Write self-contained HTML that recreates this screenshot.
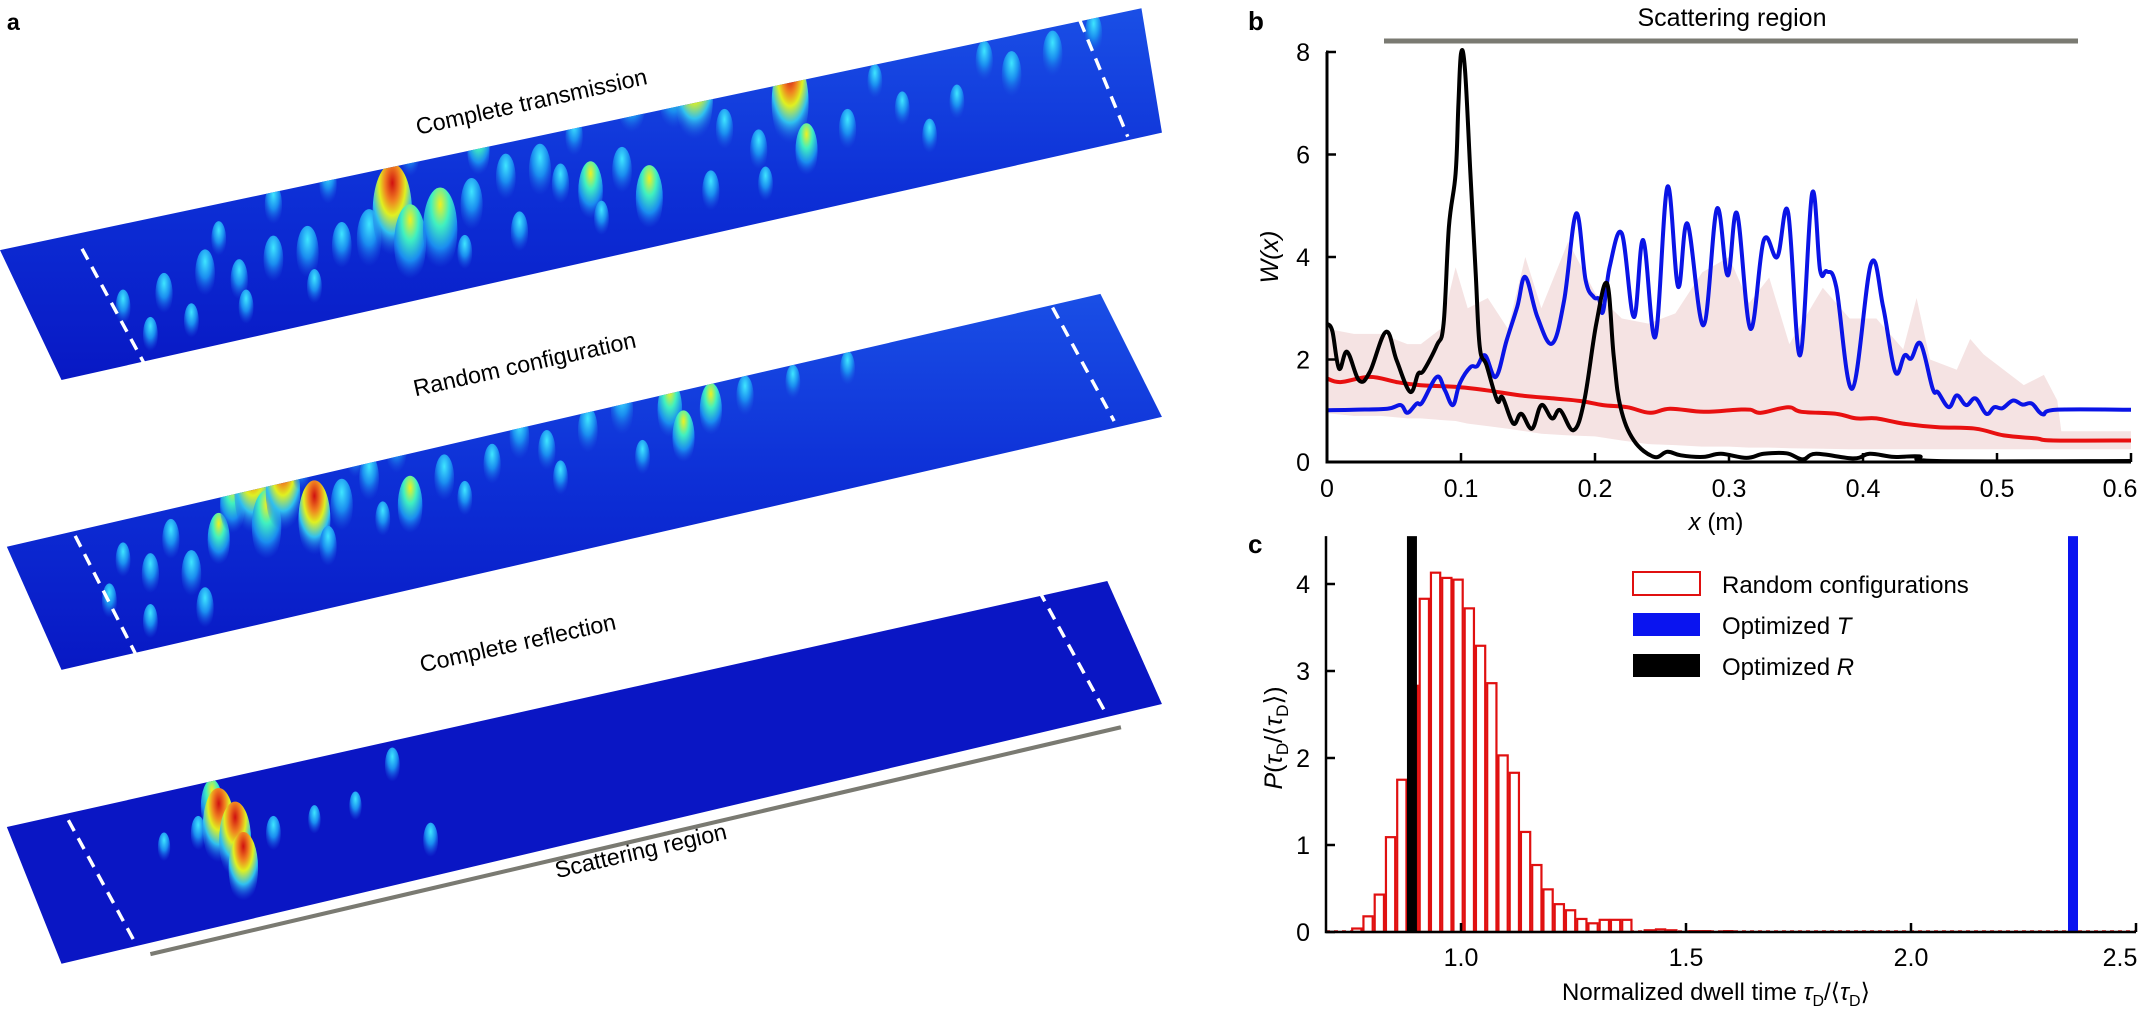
<!DOCTYPE html>
<html><head><meta charset="utf-8"><style>
html,body{margin:0;padding:0;background:#fff;}
svg{display:block;}
text{font-family:"Liberation Sans",sans-serif;}
</style></head><body>
<svg id="fig" xmlns="http://www.w3.org/2000/svg" width="2143" height="1013" viewBox="0 0 2143 1013">
<defs>
<linearGradient id="slabG" x1="0" y1="0" x2="0" y2="1">
<stop offset="0" stop-color="#1a4fe6"/><stop offset="0.5" stop-color="#0d2fd6"/><stop offset="1" stop-color="#0818c4"/></linearGradient>
<radialGradient id="pkC" cx="0.5" cy="0.25" r="0.7"><stop offset="0" stop-color="#3fe6ff"/><stop offset="0.5" stop-color="#1a8cf0"/><stop offset="1" stop-color="#1a50e0" stop-opacity="0"/></radialGradient>
<radialGradient id="pkY" cx="0.5" cy="0.2" r="0.75"><stop offset="0" stop-color="#f0f020"/><stop offset="0.35" stop-color="#40f0c0"/><stop offset="0.7" stop-color="#1a8cf0"/><stop offset="1" stop-color="#1a50e0" stop-opacity="0"/></radialGradient>
<radialGradient id="pkR" cx="0.5" cy="0.2" r="0.75"><stop offset="0" stop-color="#d01010"/><stop offset="0.25" stop-color="#f08020"/><stop offset="0.45" stop-color="#e0f020"/><stop offset="0.7" stop-color="#30c0f0"/><stop offset="1" stop-color="#1a50e0" stop-opacity="0"/></radialGradient>
<clipPath id="clip1"><polygon points="0,183 835,6 850,97 45,278"/></clipPath>
<clipPath id="clip2"><polygon points="5,400 805,215 850,305 45,490"/></clipPath>
<clipPath id="clip3"><polygon points="5,605 810,425 850,515 45,705"/></clipPath>
</defs>

<g id="panelA" transform="scale(1.367)">
<text x="5" y="22" font-size="17" font-weight="bold">a</text>
<g>
<polygon points="0,183 835,6 850,97 45,278" fill="url(#slabG)"/>
<g id="pk1" clip-path="url(#clip1)"></g>
<line x1="60" y1="182" x2="105" y2="265" stroke="#fff" stroke-width="2.5" stroke-dasharray="9,6"/>
<line x1="790" y1="15" x2="825" y2="100" stroke="#fff" stroke-width="2.5" stroke-dasharray="9,6"/>
</g>
<text x="390" y="80" font-size="17" text-anchor="middle" transform="rotate(-12.5 390 80)">Complete transmission</text>

<g>
<polygon points="5,400 805,215 850,305 45,490" fill="url(#slabG)"/>
<g id="pk2" clip-path="url(#clip2)"></g>
<line x1="55" y1="392" x2="100" y2="480" stroke="#fff" stroke-width="2.5" stroke-dasharray="9,6"/>
<line x1="770" y1="225" x2="815" y2="308" stroke="#fff" stroke-width="2.5" stroke-dasharray="9,6"/>
</g>
<text x="385" y="272" font-size="17" text-anchor="middle" transform="rotate(-12.5 385 272)">Random configuration</text>

<g>
<polygon points="5,605 810,425 850,515 45,705" fill="#0a16c4"/>
<g id="pk3" clip-path="url(#clip3)"></g>
<line x1="50" y1="600" x2="98" y2="688" stroke="#fff" stroke-width="2.5" stroke-dasharray="9,6"/>
<line x1="760" y1="432" x2="808" y2="520" stroke="#fff" stroke-width="2.5" stroke-dasharray="9,6"/>
</g>
<text x="380" y="476" font-size="17" text-anchor="middle" transform="rotate(-12.5 380 476)">Complete reflection</text>
<line x1="110" y1="698" x2="820" y2="532" stroke="#7a7a72" stroke-width="3"/>
<text x="470" y="628" font-size="17" text-anchor="middle" transform="rotate(-13 470 628)">Scattering region</text>
</g>

<g id="panelB">
<text x="1248" y="30" font-size="26" font-weight="bold">b</text>
<text x="1732" y="26" font-size="25" text-anchor="middle">Scattering region</text>
<line x1="1384" y1="41" x2="2078" y2="41" stroke="#7a7a72" stroke-width="5"/>
<g id="bPlot"></g>
<text transform="translate(1278 257) rotate(-90)" font-size="25" text-anchor="middle" font-style="italic">W(x)</text>
<text x="1716" y="530" font-size="24" text-anchor="middle"><tspan font-style="italic">x</tspan> (m)</text>
</g>

<g id="panelC">
<text x="1248" y="553" font-size="26" font-weight="bold">c</text>
<g id="cPlot"></g>
<text transform="translate(1282 738) rotate(-90)" font-size="25" text-anchor="middle"><tspan font-style="italic">P</tspan>(<tspan font-style="italic">τ</tspan><tspan font-size="17" dy="6">D</tspan><tspan dy="-6">/⟨</tspan><tspan font-style="italic">τ</tspan><tspan font-size="17" dy="6">D</tspan><tspan dy="-6">⟩)</tspan></text>
<text x="1716" y="1000" font-size="24" text-anchor="middle">Normalized dwell time <tspan font-style="italic">τ</tspan><tspan font-size="16" dy="6">D</tspan><tspan dy="-6">/⟨</tspan><tspan font-style="italic">τ</tspan><tspan font-size="16" dy="6">D</tspan><tspan dy="-6">⟩</tspan></text>
<g>
<rect x="1633" y="572" width="67" height="23" fill="#fff" stroke="#e01010" stroke-width="2"/>
<text x="1722" y="593" font-size="24">Random configurations</text>
<rect x="1633" y="613" width="67" height="23" fill="#0a14f0"/>
<text x="1722" y="634" font-size="24">Optimized <tspan font-style="italic">T</tspan></text>
<rect x="1633" y="654" width="67" height="23" fill="#000"/>
<text x="1722" y="675" font-size="24">Optimized <tspan font-style="italic">R</tspan></text>
</g>
</g>
</svg>
<script>
const blackX = [0,0.004,0.009,0.015,0.024,0.032,0.044,0.052,0.062,0.068,0.072,0.082,0.087,0.091,0.096,0.098,0.1,0.103,0.107,0.111,0.114,0.119,0.127,0.131,0.139,0.145,0.153,0.16,0.168,0.174,0.184,0.192,0.201,0.209,0.214,0.219,0.229,0.244,0.254,0.264,0.281,0.294,0.313,0.326,0.343,0.355,0.365,0.393,0.405,0.423,0.442,0.455,0.6];
const blackY = [2.7,2.55,1.82,2.15,1.59,1.76,2.54,1.98,1.37,1.72,1.78,2.28,2.7,4.59,5.63,6.93,7.97,7.65,5.63,3.68,2.24,1.89,1.2,1.26,0.75,0.94,0.65,1.11,0.85,1.01,0.62,1.2,2.7,3.48,2.05,1.07,0.42,0.1,0.2,0.13,0.1,0.16,0.08,0.16,0.17,0.05,0.16,0.07,0.16,0.1,0.11,0.02,0.02];
const blueX = [0,0.02,0.045,0.055,0.06,0.067,0.071,0.082,0.088,0.094,0.099,0.107,0.112,0.118,0.126,0.134,0.142,0.148,0.157,0.168,0.177,0.186,0.193,0.199,0.203,0.206,0.211,0.22,0.229,0.236,0.245,0.254,0.262,0.269,0.281,0.291,0.299,0.306,0.316,0.326,0.336,0.344,0.353,0.362,0.368,0.373,0.38,0.392,0.406,0.415,0.424,0.431,0.436,0.443,0.452,0.456,0.464,0.47,0.477,0.484,0.492,0.498,0.504,0.512,0.519,0.526,0.534,0.544,0.6];
const blueY = [1.01,1.02,1.04,1.11,0.96,1.14,1.16,1.66,1.4,1.11,1.53,1.85,1.87,2.08,1.66,2.37,3.03,3.61,2.83,2.31,3.16,4.85,3.55,3.22,3.18,2.93,3.81,4.46,2.83,4.33,2.44,5.37,3.42,4.65,2.67,4.94,3.64,4.85,2.6,4.33,4.0,4.88,2.08,5.24,3.74,3.72,3.42,1.43,3.87,3.03,1.76,2.08,2.02,2.31,1.43,1.36,1.07,1.3,1.11,1.24,0.94,1.07,1.05,1.2,1.12,1.14,0.93,1.02,1.02];
const redX = [0,0.01,0.032,0.052,0.069,0.099,0.119,0.144,0.169,0.189,0.206,0.224,0.241,0.256,0.281,0.306,0.316,0.324,0.344,0.354,0.38,0.395,0.41,0.43,0.455,0.484,0.505,0.529,0.542,0.6];
const redY = [1.63,1.56,1.66,1.56,1.5,1.46,1.4,1.3,1.24,1.19,1.11,1.07,0.96,1.04,0.98,1.02,1.02,0.96,1.07,0.98,0.94,0.85,0.85,0.75,0.68,0.65,0.52,0.46,0.42,0.42];
const bandX = [0,0.02,0.04,0.06,0.07,0.085,0.096,0.105,0.12,0.135,0.148,0.16,0.18,0.2,0.22,0.24,0.26,0.28,0.3,0.315,0.33,0.345,0.37,0.39,0.41,0.43,0.44,0.45,0.47,0.48,0.49,0.51,0.52,0.535,0.545,0.548,0.6];
const bandHi = [2.6,2.5,2.5,2.3,2.3,2.6,3.8,3.0,3.2,2.6,4.0,3.0,4.3,3.3,2.8,2.7,2.9,3.7,4.0,3.1,3.6,2.3,3.4,2.8,2.8,2.2,3.2,2.0,1.8,2.4,2.1,1.7,1.5,1.7,1.2,0.6,0.6];
const bandLo = [0.95,0.9,0.9,0.85,0.85,0.82,0.8,0.75,0.7,0.65,0.6,0.55,0.52,0.5,0.42,0.35,0.33,0.3,0.3,0.28,0.28,0.27,0.26,0.25,0.25,0.25,0.25,0.25,0.25,0.25,0.25,0.25,0.25,0.25,0.25,0.25,0.25];
const bXTicks = [0,0.1,0.2,0.3,0.4,0.5,0.6];
const bXTickLabels = ["0","0.1","0.2","0.3","0.4","0.5","0.6"];
const bYTicks = [0,2,4,6,8];
const bYTickLabels = ["0","2","4","6","8"];

const histStart = 0.756;
const histWidth = 0.025;
const histCounts = [0.04,0.18,0.43,1.09,1.75,2.83,3.83,4.13,4.07,4.05,3.72,3.29,2.86,2.03,1.83,1.15,0.77,0.49,0.32,0.25,0.15,0.10,0.14,0.14,0.14,0,0.02,0.03,0.02,0,0.01,0.01,0,0.01];
const optR = 0.891;
const optT = 2.36;
const cXTicks = [1.0,1.5,2.0,2.5];
const cXTickLabels = ["1.0","1.5","2.0","2.5"];
const cYTicks = [0,1,2,3,4];
const cYTickLabels = ["0","1","2","3","4"];

const NS = "http://www.w3.org/2000/svg";
function mk(tag, attrs, parent){const e=document.createElementNS(NS,tag);for(const k in attrs)e.setAttribute(k,attrs[k]);parent.appendChild(e);return e;}

const bx = v => 1327 + v*1340;
const by = v => 462 - v*51.25;
const bP = document.getElementById('bPlot');
function poly(xs,ys){return xs.map((x,i)=>(i?'L':'M')+bx(x).toFixed(1)+','+by(ys[i]).toFixed(1)).join('');}
function smooth(xs,ys){
  const P = xs.map((x,i)=>[bx(x),by(ys[i])]);
  let d='M'+P[0][0].toFixed(1)+','+P[0][1].toFixed(1);
  for(let i=0;i<P.length-1;i++){
    const p0=P[Math.max(0,i-1)],p1=P[i],p2=P[i+1],p3=P[Math.min(P.length-1,i+2)];
    const t=0.18;
    const c1=[p1[0]+(p2[0]-p0[0])*t,p1[1]+(p2[1]-p0[1])*t];
    const c2=[p2[0]-(p3[0]-p1[0])*t,p2[1]-(p3[1]-p1[1])*t];
    d+='C'+c1[0].toFixed(1)+','+c1[1].toFixed(1)+' '+c2[0].toFixed(1)+','+c2[1].toFixed(1)+' '+p2[0].toFixed(1)+','+p2[1].toFixed(1);
  }
  return d;
}
let bandD = poly(bandX,bandHi);
for(let i=bandX.length-1;i>=0;i--) bandD += 'L'+bx(bandX[i]).toFixed(1)+','+by(bandLo[i]).toFixed(1);
const band = mk('path',{d:bandD+'Z',fill:'#f5e3e3',stroke:'none'},bP);


const redL = mk('path',{d:smooth(redX,redY),fill:'none',stroke:'#e81010','stroke-width':4,'stroke-linejoin':'round'},bP);


const blueL = mk('path',{d:smooth(blueX,blueY),fill:'none',stroke:'#0a14e6','stroke-width':4,'stroke-linejoin':'round'},bP);


const blackL = mk('path',{d:smooth(blackX,blackY),fill:'none',stroke:'#000','stroke-width':4,'stroke-linejoin':'round'},bP);


const bAxes = mk('path',{d:`M${bx(0)-1},${by(8)}H${bx(0)}V${by(0)}H${bx(0.6)}`,fill:'none',stroke:'#000','stroke-width':3},bP);


bXTicks.forEach((t,i)=>{
  const tk = mk('line',{x1:bx(t),x2:bx(t),y1:by(0),y2:by(0)-9,stroke:'#000','stroke-width':2.5},bP);
  
  
  const tl = mk('text',{x:Math.min(bx(t),2120),y:497,'font-size':25,'text-anchor':'middle'},bP);
  tl.textContent = bXTickLabels[i];
  
  
});
bYTicks.forEach((t,i)=>{
  const tk = mk('line',{x1:bx(0),x2:bx(0)+9,y1:by(t),y2:by(t),stroke:'#000','stroke-width':2.5},bP);
  
  
  const tl = mk('text',{x:1310,y:by(t)+9,'font-size':25,'text-anchor':'end'},bP);
  tl.textContent = bYTickLabels[i];
  
  
});

const cx = v => 1461 + (v-1)*450;
const cy = v => 932 - v*87;
const cP = document.getElementById('cPlot');
const hb = mk('line',{x1:cx(0.70),x2:cx(2.5),y1:cy(0)-1,y2:cy(0)-1,stroke:'#e01010','stroke-width':1.5,'stroke-dasharray':'4,4'},cP);


histCounts.forEach((h,i)=>{
  if(h<=0) return;
  const x0 = cx(histStart+i*histWidth), x1 = cx(histStart+(i+1)*histWidth);
  const r = mk('rect',{x:x0+1,y:cy(h),width:x1-x0-2,height:cy(0)-cy(h),fill:'#fff',stroke:'#e01010','stroke-width':2.2},cP);
  
  
});
const rBar = mk('rect',{x:cx(optR)-5,y:cy(4.55),width:10,height:cy(0)-cy(4.55),fill:'#000'},cP);


const tBar = mk('rect',{x:cx(optT)-5,y:cy(4.55),width:10,height:cy(0)-cy(4.55),fill:'#0a14f0'},cP);


const cAxes = mk('path',{d:`M${cx(0.70)},${cy(4.55)}V${cy(0)}H${cx(2.5)}`,fill:'none',stroke:'#000','stroke-width':2.5},cP);


cXTicks.forEach((t,i)=>{
  const tk = mk('line',{x1:cx(t),x2:cx(t),y1:cy(0),y2:cy(0)-9,stroke:'#000','stroke-width':2.5},cP);
  
  
  const tl = mk('text',{x:Math.min(cx(t),2120),y:966,'font-size':25,'text-anchor':'middle'},cP);
  tl.textContent = cXTickLabels[i];
  
  
});
cYTicks.forEach((t,i)=>{
  const tk = mk('line',{x1:cx(0.70),x2:cx(0.70)+9,y1:cy(t),y2:cy(t),stroke:'#000','stroke-width':2.5},cP);
  
  
  const tl = mk('text',{x:1310,y:cy(t)+9,'font-size':25,'text-anchor':'end'},cP);
  tl.textContent = cYTickLabels[i];
  
  
});

const peaks1 = [[90,225,12,'C'],[120,215,14,'C'],[150,200,16,'C'],[175,205,14,'C'],[200,190,16,'C'],[225,185,18,'C'],[250,180,16,'C'],[270,175,20,'C'],[287,155,32,'R'],[300,178,26,'Y'],[322,168,28,'Y'],[345,150,18,'C'],[350,110,18,'Y'],[370,130,16,'C'],[395,125,18,'C'],[410,135,14,'C'],[432,140,20,'Y'],[455,125,16,'C'],[462,75,22,'Y'],[475,145,22,'Y'],[493,70,24,'Y'],[508,72,30,'R'],[530,95,14,'C'],[555,110,14,'C'],[578,75,30,'R'],[590,110,18,'Y'],[620,95,14,'C'],[660,80,12,'C'],[700,75,12,'C'],[300,115,14,'C'],[240,135,14,'C'],[200,150,14,'C'],[160,175,12,'C'],[420,100,14,'C'],[640,60,12,'C'],[740,55,16,'C'],[800,25,14,'C'],[380,170,14,'C'],[520,140,14,'C'],[110,245,12,'C'],[140,235,12,'C'],[180,225,12,'C'],[230,210,12,'C'],[340,185,12,'C'],[440,160,12,'C'],[560,135,12,'C'],[680,100,12,'C'],[720,45,14,'C'],[770,40,16,'C']];
const peaks2 = [[80,440,12,'C'],[110,420,14,'C'],[140,420,16,'C'],[160,395,18,'Y'],[170,370,20,'Y'],[185,360,30,'R'],[195,385,24,'Y'],[207,360,28,'R'],[230,380,26,'R'],[250,370,18,'C'],[270,350,16,'C'],[290,330,16,'C'],[300,370,20,'Y'],[325,350,16,'C'],[345,305,16,'Y'],[360,340,14,'C'],[380,320,16,'C'],[400,330,14,'C'],[430,315,16,'C'],[455,300,18,'C'],[490,300,20,'Y'],[500,320,18,'Y'],[520,300,18,'Y'],[545,290,14,'C'],[580,280,12,'C'],[620,270,12,'C'],[125,395,14,'C'],[220,345,14,'C'],[260,335,14,'C'],[150,445,14,'C'],[110,455,12,'C'],[90,410,12,'C'],[240,400,14,'C'],[280,380,12,'C'],[340,365,12,'C'],[410,350,12,'C'],[470,335,12,'C']];
const peaks3 = [[120,620,10,'C'],[145,610,12,'C'],[155,590,18,'Y'],[160,605,26,'R'],[172,615,26,'R'],[178,635,24,'R'],[200,610,12,'C'],[230,600,10,'C'],[260,590,10,'C'],[287,560,12,'C'],[315,615,12,'C']];
function drawPeaks(list,id){
  const g=document.getElementById(id);
  list.forEach(p=>{
    const e=mk('ellipse',{cx:p[0],cy:p[1],rx:p[2]*0.45,ry:p[2]*1.1,fill:'url(#pk'+p[3]+')'},g);
    
    
  });
}
drawPeaks(peaks1,'pk1');drawPeaks(peaks2,'pk2');drawPeaks(peaks3,'pk3');
</script>
</body></html>
